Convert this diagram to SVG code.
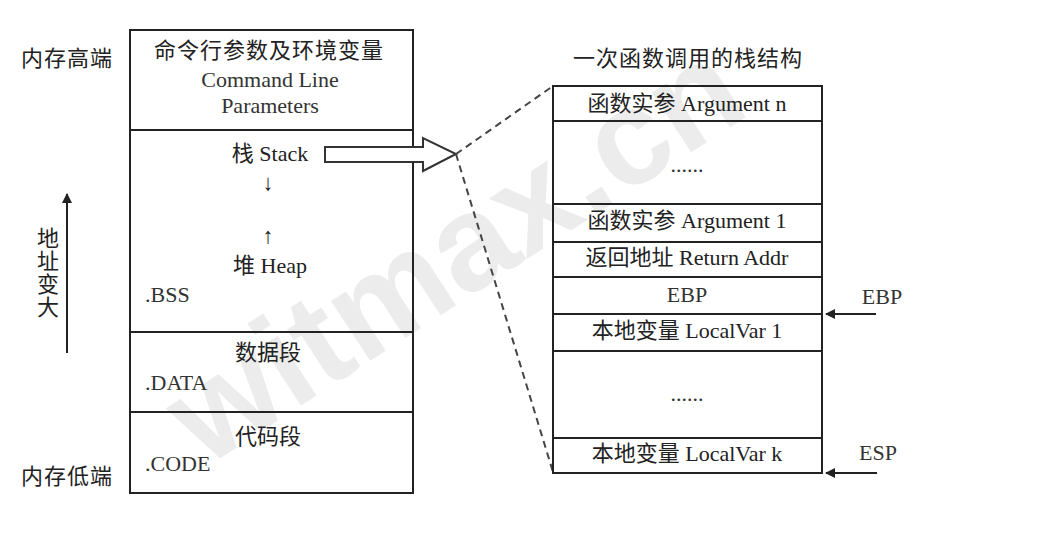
<svg xmlns="http://www.w3.org/2000/svg" width="1047" height="543" viewBox="0 0 1047 543">
<style>
.box{fill:none;stroke:#222;stroke-width:2}
.ln{stroke:#222;stroke-width:2}
.zh{font-family:"Noto Sans CJK SC","Liberation Sans",sans-serif;font-size:22px;fill:#222}
.en{font-family:"Liberation Serif","Noto Sans CJK SC",serif;font-size:22px;fill:#333}
.mix{font-family:"Liberation Serif","Noto Sans CJK SC",serif;font-size:22px;fill:#222}
.dash{fill:none;stroke:#444;stroke-width:2;stroke-dasharray:7,5}
.wm{font-family:"Liberation Sans",sans-serif;font-weight:bold;font-size:135px;fill:#ececec}
</style>
<defs>
<marker id="ah" viewBox="0 0 10 10" refX="9" refY="5" markerWidth="5" markerHeight="5" orient="auto" markerUnits="strokeWidth"><path d="M0,0 L10,5 L0,10 z" fill="#222"/></marker>
</defs>
<rect width="1047" height="543" fill="#fff"/>
<text class="wm" transform="translate(205,468) rotate(-33)">witmax.cn</text>

<g id="labels-left">
<text class="zh" x="67" y="66" text-anchor="middle" letter-spacing="1">内存高端</text>
<text class="zh" x="67" y="484" text-anchor="middle" letter-spacing="1">内存低端</text>
<g id="addr-arrow">
<line class="ln" x1="67" y1="353" x2="67" y2="194" marker-end="url(#ah)"/>
<text class="zh" x="48" y="227" writing-mode="vertical-rl" letter-spacing="1">地址变大</text>
</g>
</g>

<g id="mem-cmdline">
<rect class="box" x="130" y="30" width="283" height="100"/>
<text class="zh" x="269" y="58" text-anchor="middle" letter-spacing="1">命令行参数及环境变量</text>
<text class="en" x="270" y="87" text-anchor="middle">Command Line</text>
<text class="en" x="270" y="113" text-anchor="middle">Parameters</text>
</g>
<g id="mem-stack-heap">
<rect class="box" x="130" y="130" width="283" height="202"/>
<text class="mix" x="270" y="161" text-anchor="middle"><tspan class="zh">栈</tspan> Stack</text>
<text class="mix" x="268" y="190" text-anchor="middle" font-weight="bold">↓</text>
<text class="mix" x="268" y="243" text-anchor="middle" font-weight="bold">↑</text>
<text class="mix" x="270" y="273" text-anchor="middle"><tspan class="zh">堆</tspan> Heap</text>
<text class="en" x="145" y="302">.BSS</text>
</g>
<g id="mem-data">
<rect class="box" x="130" y="332" width="283" height="80"/>
<text class="zh" x="268" y="360" text-anchor="middle">数据段</text>
<text class="en" x="145" y="390">.DATA</text>
</g>
<g id="mem-code">
<rect class="box" x="130" y="412" width="283" height="81"/>
<text class="zh" x="268" y="444" text-anchor="middle">代码段</text>
<text class="en" x="145" y="471">.CODE</text>
</g>

<g id="connectors">
<path d="M325,147 L423,147 L423,138 L456,154 L423,171 L423,162 L325,162 z" fill="#fff" stroke="#333" stroke-width="2"/>
<line class="dash" x1="456" y1="154" x2="553" y2="86"/>
<line class="dash" x1="456" y1="154" x2="553" y2="472"/>
<line class="ln" x1="876" y1="314" x2="826" y2="314" marker-end="url(#ah)"/>
<line class="ln" x1="877" y1="473" x2="826" y2="473" marker-end="url(#ah)"/>
</g>

<g id="stack-frame">
<text class="zh" x="688" y="66" text-anchor="middle" letter-spacing="1">一次函数调用的栈结构</text>
<g id="row-argn"><rect class="box" x="553" y="86" width="269" height="35"/>
<text class="mix" x="687" y="111" text-anchor="middle"><tspan class="zh">函数实参</tspan> Argument n</text></g>
<g id="row-dots1"><rect class="box" x="553" y="121" width="269" height="83"/>
<text class="en" x="687" y="172" text-anchor="middle" font-size="14">......</text></g>
<g id="row-arg1"><rect class="box" x="553" y="204" width="269" height="38"/>
<text class="mix" x="687" y="228" text-anchor="middle"><tspan class="zh">函数实参</tspan> Argument 1</text></g>
<g id="row-ret"><rect class="box" x="553" y="242" width="269" height="35"/>
<text class="mix" x="687" y="265" text-anchor="middle"><tspan class="zh">返回地址</tspan> Return Addr</text></g>
<g id="row-ebp"><rect class="box" x="553" y="277" width="269" height="37"/>
<text class="en" x="687" y="302" text-anchor="middle">EBP</text></g>
<g id="row-lv1"><rect class="box" x="553" y="314" width="269" height="37"/>
<text class="mix" x="687" y="338" text-anchor="middle"><tspan class="zh">本地变量</tspan> LocalVar 1</text></g>
<g id="row-dots2"><rect class="box" x="553" y="351" width="269" height="87"/>
<text class="en" x="687" y="401" text-anchor="middle" font-size="14">......</text></g>
<g id="row-lvk"><rect class="box" x="553" y="438" width="269" height="35"/>
<text class="mix" x="687" y="461" text-anchor="middle"><tspan class="zh">本地变量</tspan> LocalVar k</text></g>
</g>

<g id="reg-ebp"><text class="en" x="882" y="304" text-anchor="middle">EBP</text></g>
<g id="reg-esp"><text class="en" x="878" y="460" text-anchor="middle">ESP</text></g>
</svg>
